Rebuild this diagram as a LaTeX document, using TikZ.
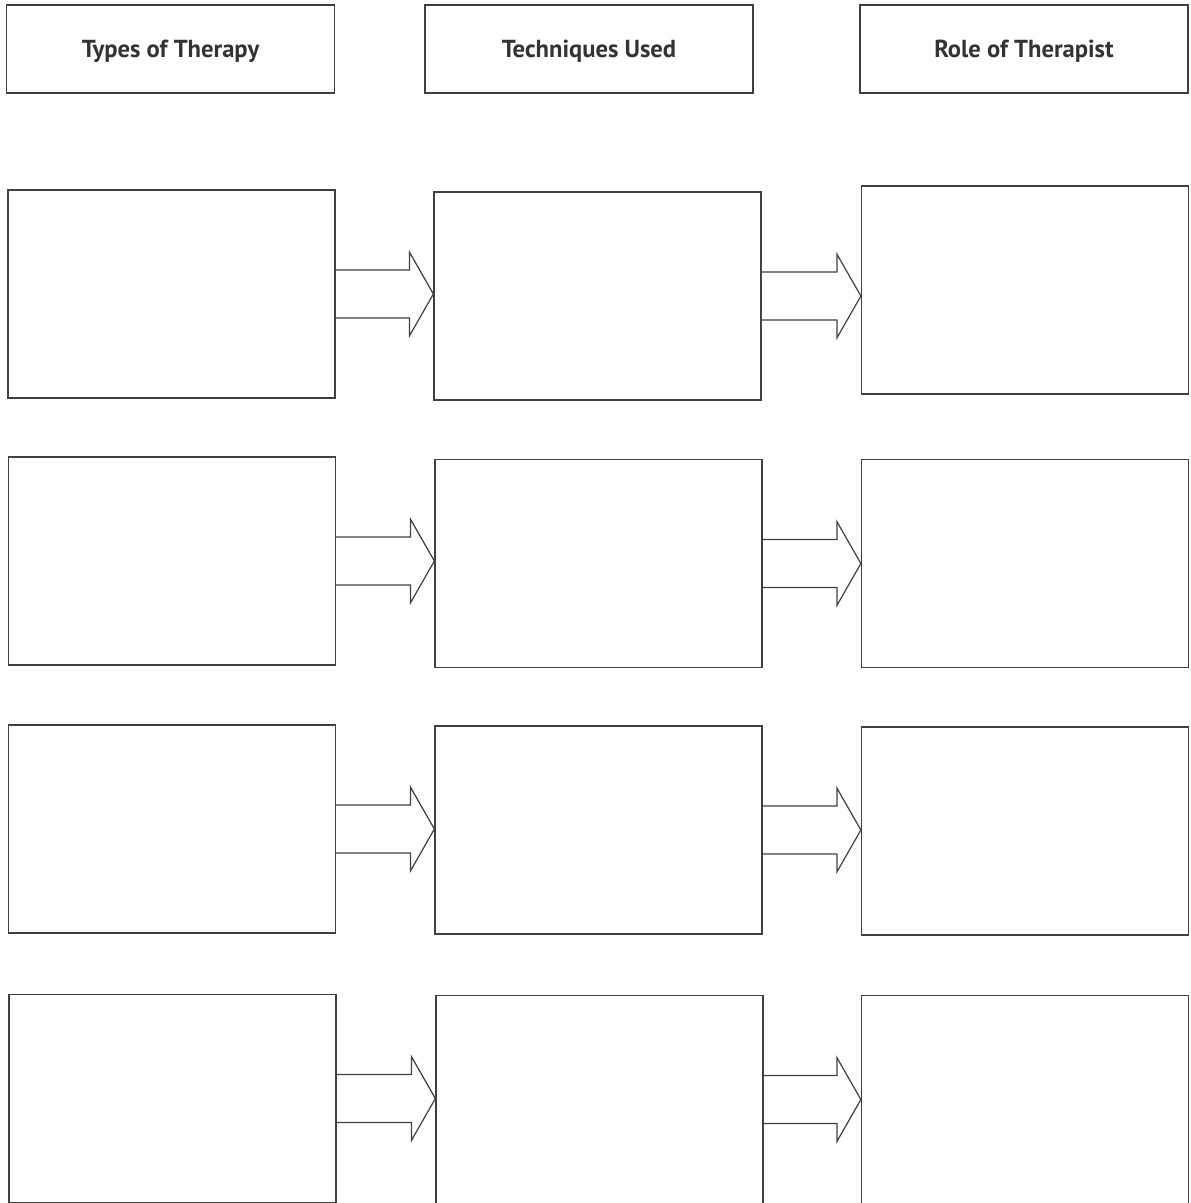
\documentclass[tikz,border=0pt]{standalone}
\usepackage{fontspec}
\setmainfont{PT Sans}
\usepackage{tikz}
\usetikzlibrary{calc}
\usetikzlibrary{positioning}

\tikzset{
  headbox/.style={draw=black!75, line width=0.7pt, minimum width=6.56cm, minimum height=1.76cm,
    inner sep=0pt, text depth=0pt, font=\fontsize{14}{16}\selectfont\bfseries, text=black!80},
  emptybox/.style={draw=black!75, line width=0.7pt, minimum width=6.54cm, minimum height=4.16cm, inner sep=0pt},
  arrowline/.style={draw=black!75, line width=0.7pt, line join=miter}
}

% block arrow from the east side of #1 to the west side of #2
\newcommand{\blockarrow}[2]{
  \draw[arrowline] ($(#1.east)+(0,0.48)$) -- ($(#2.west |- #1.east)+(-0.48,0.48)$)
    -- ++(0,0.36) -- (#2.west |- #1.east) -- ++(-0.48,-0.84) -- ++(0,0.36)
    -- ($(#1.east)+(0,-0.48)$);
}

\begin{document}
\begin{tikzpicture}
  \useasboundingbox (0,0) rectangle (23.82,-24.06);

  % column headings
  \node[headbox] (typeshead) at (3.41,-0.98) {Types of Therapy};
  \node[headbox] (techhead) at (11.78,-0.98) {Techniques Used};
  \node[headbox] (rolehead) at (20.48,-0.98) {Role of Therapist};

  % first row
  \node[emptybox] (type1) at (3.43,-5.88) {};
  \node[emptybox] (tech1) at (11.95,-5.92) {};
  \node[emptybox] (role1) at (20.50,-5.80) {};
  % second row
  \node[emptybox] (type2) at (3.44,-11.22) {};
  \node[emptybox] (tech2) at (11.97,-11.27) {};
  \node[emptybox] (role2) at (20.50,-11.27) {};
  % third row
  \node[emptybox] (type3) at (3.44,-16.58) {};
  \node[emptybox] (tech3) at (11.97,-16.60) {};
  \node[emptybox] (role3) at (20.50,-16.62) {};
  % fourth row
  \node[emptybox] (type4) at (3.45,-21.97) {};
  \node[emptybox] (tech4) at (11.99,-21.99) {};
  \node[emptybox] (role4) at (20.50,-21.99) {};

  % arrows
  \blockarrow{type1}{tech1}
  \blockarrow{tech1}{role1}
  \blockarrow{type2}{tech2}
  \blockarrow{tech2}{role2}
  \blockarrow{type3}{tech3}
  \blockarrow{tech3}{role3}
  \blockarrow{type4}{tech4}
  \blockarrow{tech4}{role4}
\end{tikzpicture}
\end{document}
